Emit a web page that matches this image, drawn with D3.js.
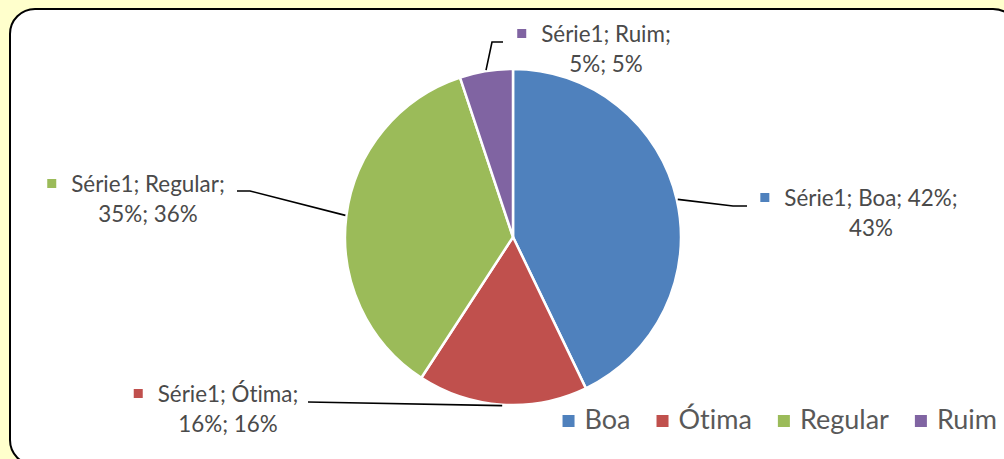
<!DOCTYPE html>
<html lang="pt">
<head>
<meta charset="UTF-8" />
<title>Série1</title>
<script src="https://cdn.jsdelivr.net/npm/d3@7"></script>
<style>
  html, body { margin: 0; padding: 0; background: #FFFFCC; }
  svg { display: block; }
  text { font-family: Lato, "Open Sans", sans-serif; fill: #595959; font-variant-ligatures: none; }
  .lbl { fill: #4a4a4a; }
</style>
</head>
<body>
<svg id="chart" width="1004" height="459"></svg>
<script>
var serieName = "Série1";
var categories = ["Boa", "Ótima", "Regular", "Ruim"];
var values = [42, 16, 35, 5];
var colors = ["#4F81BD", "#C0504D", "#9BBB59", "#8064A2"];

// label layout (text center, first baseline, where line wraps, leader elbow + end)
var labelPos = [
  { cx: 871, y: 206, wrapAfter: 3, elbow: [733, 206], end: [747, 206] },
  { cx: 228, y: 402, wrapAfter: 2, elbow: [308, 402], end: [308, 402] },
  { cx: 148, y: 192, wrapAfter: 2, elbow: [250, 191], end: [237, 191] },
  { cx: 606, y: 42,  wrapAfter: 2, elbow: [492, 42],  end: [503, 42] }
];

var width = 1004, height = 459;
var cx = 513, cy = 237, radius = 168;
var labelSize = 22.4, lineGap = 30;

var svg = d3.select("#chart");

svg.append("rect")
  .attr("x", 10).attr("y", 9)
  .attr("width", 1008).attr("height", 456)
  .attr("rx", 25).attr("ry", 25)
  .attr("fill", "#ffffff")
  .attr("stroke", "#000000")
  .attr("stroke-width", 2);

var total = d3.sum(values);
var data = categories.map(function(c, i) {
  return { cat: c, value: values[i], pct: Math.round(values[i] / total * 100), color: colors[i], pos: labelPos[i] };
});

var pie = d3.pie().sort(null).value(function(d) { return d.value; });
var arc = d3.arc().innerRadius(0).outerRadius(radius);

var g = svg.append("g").attr("transform", "translate(" + cx + "," + cy + ")");
var arcs = pie(data);

g.selectAll("path.slice")
  .data(arcs)
  .enter()
  .append("path")
  .attr("class", "slice")
  .attr("d", arc)
  .attr("fill", function(d) { return d.data.color; })
  .attr("stroke", "#ffffff")
  .attr("stroke-width", 2.5)
  .attr("stroke-linejoin", "round");

// leader lines
arcs.forEach(function(a) {
  var mid = (a.startAngle + a.endAngle) / 2;
  var sx = cx + Math.sin(mid) * (radius + 1);
  var sy = cy - Math.cos(mid) * (radius + 1);
  var p = a.data.pos;
  svg.append("path")
    .attr("d", d3.line()([[sx, sy], p.elbow, p.end]))
    .attr("fill", "none")
    .attr("stroke", "#000000")
    .attr("stroke-width", 1.6);
});

// data labels
arcs.forEach(function(a) {
  var d = a.data, p = d.pos;
  var parts = [serieName, d.cat, d.value + "%", d.pct + "%"];
  var line1 = parts.slice(0, p.wrapAfter).join("; ") + ";";
  var line2 = parts.slice(p.wrapAfter).join("; ");
  var t1 = svg.append("text")
    .attr("class", "lbl")
    .attr("x", p.cx).attr("y", p.y)
    .attr("text-anchor", "middle")
    .style("font-size", labelSize + "px")
    .text(line1);
  var w = t1.node().getComputedTextLength();
  svg.append("rect")
    .attr("x", p.cx - w / 2 - 24).attr("y", p.y - 13)
    .attr("width", 9).attr("height", 9)
    .attr("fill", d.color);
  svg.append("text")
    .attr("class", "lbl")
    .attr("x", p.cx).attr("y", p.y + lineGap)
    .attr("text-anchor", "middle")
    .style("font-size", labelSize + "px")
    .text(line2);
});

// legend, right aligned
var legend = svg.append("g");
var lx = 0;
data.forEach(function(d, i) {
  var it = legend.append("g");
  it.append("rect").attr("x", 0).attr("y", -14).attr("width", 12).attr("height", 12).attr("fill", d.color);
  var t = it.append("text").attr("x", 22).attr("y", 0).style("font-size", "27px").text(d.cat);
  var w = 22 + t.node().getComputedTextLength();
  it.attr("transform", "translate(" + lx + ",0)");
  lx += w + 26;
});
lx -= 26;
legend.attr("transform", "translate(" + (997 - lx) + ",429)");
</script>
</body>
</html>
